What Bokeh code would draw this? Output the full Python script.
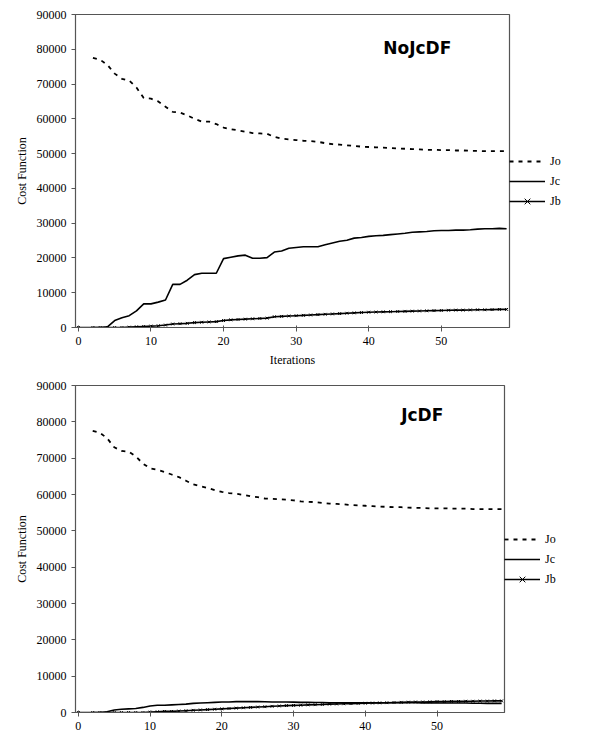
from bokeh.plotting import figure
from bokeh.layouts import column
from bokeh.models import Legend, LegendItem, Range1d, FixedTicker, Label
from bokeh.embed import file_html
from bokeh.resources import INLINE

iters = list(range(2, 60))

jo_top = [77500, 77000, 75500, 73000, 71500, 71000, 69000, 66000, 65800, 65000,
          63500, 62000, 61800, 61000, 60000, 59200, 59200, 58500, 57500, 57000,
          56700, 56300, 55900, 55800, 55700, 54800, 54300, 54100, 53900, 53700,
          53600, 53400, 53000, 52700, 52600, 52400, 52200, 52000, 51900, 51800,
          51700, 51600, 51500, 51400, 51300, 51200, 51100, 51100, 51000, 51000,
          50900, 50900, 50800, 50800, 50700, 50700, 50700, 50700]
jc_top = [0, 0, 200, 2000, 2800, 3400, 4800, 6800, 6800, 7300,
          7900, 12400, 12400, 13600, 15200, 15600, 15600, 15600, 19800, 20200,
          20600, 20800, 19900, 19900, 20100, 21700, 22000, 22800, 23000, 23200,
          23200, 23200, 23800, 24300, 24800, 25100, 25700, 25900, 26200, 26400,
          26500, 26700, 26900, 27100, 27400, 27500, 27600, 27800, 27900, 27900,
          28000, 28000, 28100, 28300, 28400, 28400, 28500, 28400]
jb_top = [0, 0, 0, 0, 0, 100, 200, 300, 400, 500,
          700, 1000, 1100, 1200, 1400, 1500, 1600, 1700, 2000, 2200,
          2300, 2400, 2500, 2600, 2700, 3100, 3200, 3300, 3400, 3500,
          3600, 3700, 3800, 3900, 4000, 4100, 4200, 4300, 4400, 4450,
          4500, 4550, 4600, 4650, 4700, 4750, 4800, 4850, 4900, 4950,
          5000, 5000, 5050, 5100, 5100, 5150, 5200, 5200]

jo_bot = [77500, 77000, 75500, 73000, 72000, 71800, 70500, 68500, 67200, 66800,
          66200, 65500, 64800, 63800, 62800, 62300, 61800, 61200, 60700, 60400,
          60200, 59900, 59500, 59300, 58900, 58800, 58700, 58600, 58400, 58100,
          58000, 57900, 57700, 57500, 57400, 57300, 57100, 57000, 56900, 56800,
          56700, 56600, 56500, 56500, 56400, 56300, 56300, 56200, 56200, 56200,
          56100, 56100, 56100, 56000, 56000, 56000, 56000, 56000]
jc_bot = [0, 0, 200, 700, 900, 1000, 1100, 1400, 1800, 2000,
          2000, 2100, 2200, 2300, 2500, 2600, 2700, 2800, 2900, 2900,
          3000, 3000, 3000, 3000, 2950, 2900, 2900, 2900, 2850, 2800,
          2800, 2750, 2750, 2700, 2700, 2700, 2700, 2700, 2700, 2700,
          2700, 2700, 2700, 2700, 2700, 2700, 2650, 2650, 2600, 2600,
          2600, 2600, 2600, 2550, 2550, 2500, 2500, 2500]
jb_bot = [0, 0, 0, 0, 0, 0, 0, 0, 100, 200,
          300, 300, 400, 500, 600, 700, 800, 900, 1000, 1100,
          1200, 1300, 1400, 1500, 1600, 1700, 1800, 1900, 1950, 2000,
          2100, 2150, 2200, 2300, 2350, 2400, 2450, 2500, 2550, 2600,
          2650, 2700, 2750, 2800, 2850, 2900, 2900, 2950, 3000, 3000,
          3050, 3050, 3100, 3100, 3150, 3150, 3200, 3200]

y_ticks = list(range(0, 90001, 10000))
x_ticks = [0, 10, 20, 30, 40, 50]
FONT = "Liberation Serif"


def make_plot(jo, jc, jb, title, xlabel, frame_w, frame_h, left, top, tx, ty):
    p = figure(frame_width=frame_w, frame_height=frame_h, output_backend="svg",
               toolbar_location=None, min_border_left=left, min_border_right=10,
               min_border_top=top, min_border_bottom=6)
    p.x_range = Range1d(-0.4, 59.4)
    p.y_range = Range1d(0, 90000)
    p.xgrid.visible = False
    p.ygrid.visible = False
    p.outline_line_color = "#555555"
    p.outline_line_width = 1.2
    for ax in (p.xaxis, p.yaxis):
        ax.axis_line_color = "#555555"
        ax.major_tick_line_color = "#555555"
        ax.minor_tick_line_color = None
        ax.major_label_text_font = FONT
        ax.major_label_text_font_size = "12px"
        ax.major_label_text_color = "black"
        ax.axis_label_text_font = FONT
        ax.axis_label_text_font_size = "12px"
        ax.axis_label_text_font_style = "normal"
        ax.axis_label_text_color = "black"
    p.xaxis.ticker = FixedTicker(ticks=x_ticks)
    p.yaxis.ticker = FixedTicker(ticks=y_ticks)
    p.yaxis.major_tick_in = 0
    p.yaxis.major_tick_out = 4
    p.xaxis.major_tick_out = 4
    p.yaxis.axis_label = "Cost Function"
    if xlabel:
        p.xaxis.axis_label = xlabel

    r_jo = p.line(iters, jo, color="black", line_width=1.8, line_dash="4 5")
    r_jc = p.line(iters, jc, color="black", line_width=1.6)
    r_jb = p.line([0] + iters, [0] + jb, color="black", line_width=1.6)
    r_jbm = p.scatter([0] + iters, [0] + jb, marker="x", size=4, color="black")

    legend = Legend(items=[LegendItem(label="Jo", renderers=[r_jo]),
                           LegendItem(label="Jc", renderers=[r_jc]),
                           LegendItem(label="Jb", renderers=[r_jb, r_jbm])],
                    location=(0, frame_h // 2 - 40), border_line_color=None,
                    background_fill_alpha=0,
                    label_text_font=FONT, label_text_font_size="12px",
                    label_text_color="black",
                    glyph_width=36, spacing=0, padding=2, margin=12)
    p.add_layout(legend, "right")
    p.add_layout(Label(x=tx, y=ty, text=title, text_font="DejaVu Sans",
                       text_font_style="bold", text_font_size="17px",
                       text_color="black"))
    return p


p1 = make_plot(jo_top, jc_top, jb_top, "NoJcDF", "Iterations", 434, 313, 69, 14, 42, 77500)
p2 = make_plot(jo_bot, jc_bot, jb_bot, "JcDF", None, 429, 327, 75, 16, 45, 79000)
p = column(p1, p2, spacing=0)

open("out.html", "w").write(file_html(p, INLINE))
